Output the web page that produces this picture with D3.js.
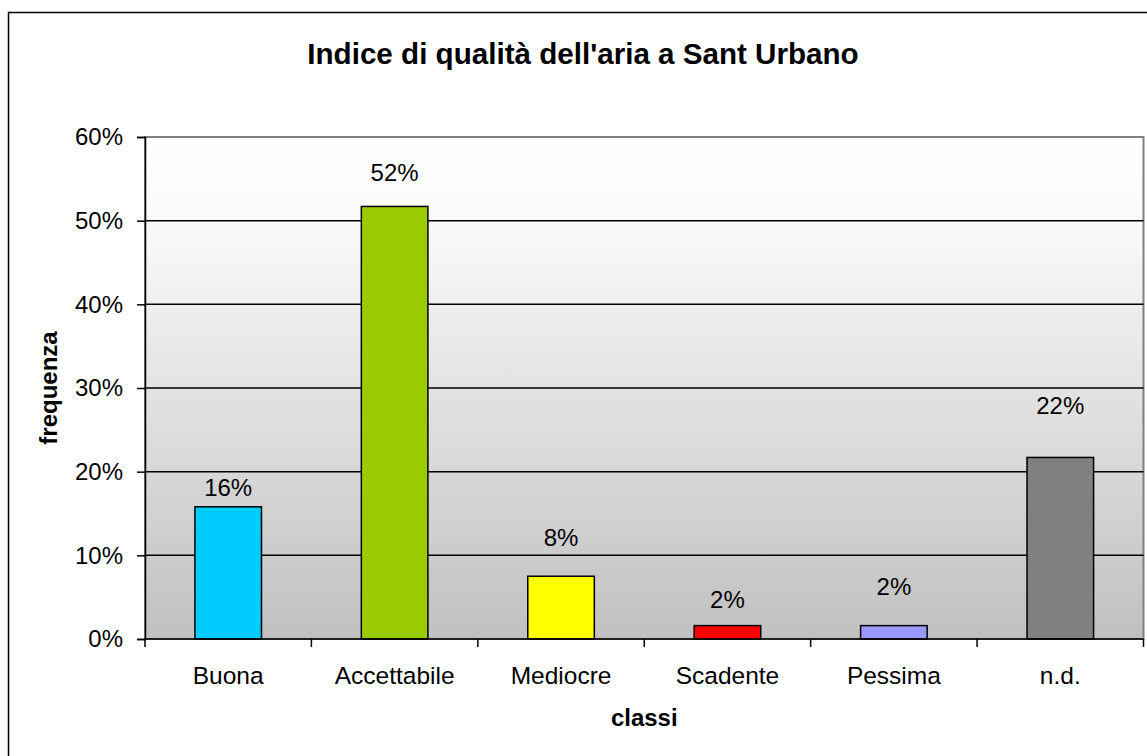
<!DOCTYPE html>
<html>
<head>
<meta charset="utf-8">
<script src="https://cdn.jsdelivr.net/npm/d3@7"></script>
<style>
  html, body { margin: 0; padding: 0; background: #fff; overflow: hidden; }
  svg { display: block; font-family: "Liberation Sans", Arial, sans-serif; }
</style>
</head>
<body>
<svg id="chart" width="1147" height="756"></svg>
<script>
// data
var categories = ["Buona", "Accettabile", "Mediocre", "Scadente", "Pessima", "n.d."];
var values = [0.158, 0.517, 0.075, 0.016, 0.016, 0.217];
var barColors = ["#00ccff", "#99cc00", "#ffff00", "#ff0000", "#9999ff", "#808080"];
var yTicks = [0, 0.1, 0.2, 0.3, 0.4, 0.5, 0.6];
// the value labels sit at uneven heights above the bars (hand-placed in the original)
var labelLift = [11, 25, 30, 18, 31, 43];

var svg = d3.select("#chart");
var W = 1147, H = 756;
var m = {left: 145, top: 137, right: 1143.5, bottom: 639};

// outer chart frame (right and bottom edges fall outside the picture)
svg.append("rect").attr("x", 8.5).attr("y", 12.5).attr("width", W + 20).attr("height", H + 20)
  .attr("fill", "#fff").attr("stroke", "#000").attr("stroke-width", 1.5);

var defs = svg.append("defs");
var grad = defs.append("linearGradient").attr("id", "bg").attr("x1", 0).attr("y1", 0).attr("x2", 0).attr("y2", 1);
grad.append("stop").attr("offset", "0%").attr("stop-color", "#ffffff");
grad.append("stop").attr("offset", "20%").attr("stop-color", "#f8f8f8");
grad.append("stop").attr("offset", "100%").attr("stop-color", "#c0c0c0");

var x = d3.scaleBand().domain(categories).range([m.left, m.right]).paddingInner(0.6).paddingOuter(0.3);
var xOuter = d3.scaleBand().domain(categories).range([m.left, m.right]);
var y = d3.scaleLinear().domain([0, 0.6]).range([m.bottom, m.top]);

svg.append("rect").attr("x", m.left).attr("y", m.top)
  .attr("width", m.right - m.left).attr("height", m.bottom - m.top)
  .attr("fill", "url(#bg)").attr("stroke", "#808080").attr("stroke-width", 2);

// gridlines
svg.append("g").selectAll("line").data(yTicks.filter(function(d){ return d > 0 && d < 0.6; }))
  .enter().append("line")
  .attr("x1", m.left).attr("x2", m.right)
  .attr("y1", function(d){ return y(d); }).attr("y2", function(d){ return y(d); })
  .attr("stroke", "#000").attr("stroke-width", 1.5);

// bars
svg.append("g").selectAll("rect").data(values).enter().append("rect")
  .attr("x", function(d, i){ return x(categories[i]); })
  .attr("y", function(d){ return y(d); })
  .attr("width", x.bandwidth())
  .attr("height", function(d){ return y(0) - y(d); })
  .attr("fill", function(d, i){ return barColors[i]; })
  .attr("stroke", "#000").attr("stroke-width", 1.5);

// value labels
svg.append("g").selectAll("text").data(values).enter().append("text")
  .attr("x", function(d, i){ return x(categories[i]) + x.bandwidth() / 2; })
  .attr("y", function(d, i){ return y(d) - labelLift[i]; })
  .attr("text-anchor", "middle").attr("font-size", 24).attr("fill", "#000")
  .text(function(d){ return Math.round(d * 100) + "%"; });

// y axis
var yAxis = svg.append("g").attr("transform", "translate(" + m.left + ",0)")
  .call(d3.axisLeft(y).tickValues(yTicks).tickSize(8).tickPadding(14).tickFormat(d3.format(".0%")));
yAxis.selectAll("path, line").attr("stroke", "#000").attr("stroke-width", 1.5);
yAxis.selectAll("text").attr("font-size", 24).attr("font-family", null).attr("fill", "#000");

// x axis: ticks at category boundaries
var xAxis = svg.append("g").attr("transform", "translate(0," + m.bottom + ")");
xAxis.append("line").attr("x1", m.left).attr("x2", m.right).attr("stroke", "#000").attr("stroke-width", 1.5);
xAxis.selectAll("line.tick").data(categories.concat(["end"])).enter().append("line")
  .attr("class", "tick")
  .attr("x1", function(d, i){ return i < categories.length ? xOuter(d) : m.right; })
  .attr("x2", function(d, i){ return i < categories.length ? xOuter(d) : m.right; })
  .attr("y1", 0).attr("y2", 8).attr("stroke", "#000").attr("stroke-width", 1.5);
xAxis.selectAll("text").data(categories).enter().append("text")
  .attr("x", function(d){ return x(d) + x.bandwidth() / 2; })
  .attr("y", 45).attr("text-anchor", "middle").attr("font-size", 24.5).attr("fill", "#000")
  .text(function(d){ return d; });

// titles
svg.append("text").attr("x", 583).attr("y", 64).attr("text-anchor", "middle")
  .attr("font-size", 29.6).attr("font-weight", "bold").text("Indice di qualità dell'aria a Sant Urbano");
svg.append("text").attr("x", (m.left + m.right) / 2).attr("y", 726).attr("text-anchor", "middle")
  .attr("font-size", 24).attr("font-weight", "bold").text("classi");
svg.append("text").attr("transform", "translate(57," + ((m.top + m.bottom) / 2) + ") rotate(-90)")
  .attr("text-anchor", "middle").attr("font-size", 24).attr("font-weight", "bold").text("frequenza");
</script>
</body>
</html>
